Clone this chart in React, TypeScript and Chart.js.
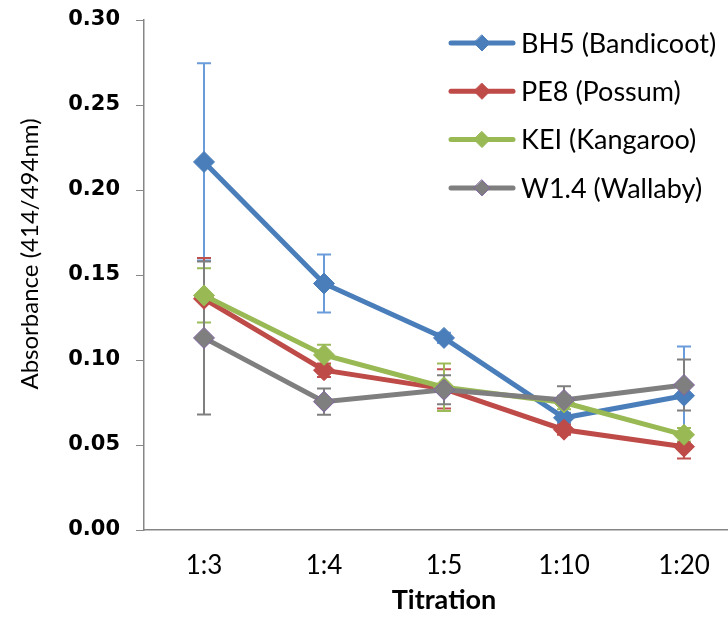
import React, { useEffect, useRef } from "react";
import { Chart, registerables } from "chart.js";

Chart.register(...registerables);

const categories = ["1:3", "1:4", "1:5", "1:10", "1:20"];
const seriesNames = ["BH5 (Bandicoot)", "PE8 (Possum)", "KEI (Kangaroo)", "W1.4 (Wallaby)"];

const bh5 = [0.2165, 0.145, 0.113, 0.066, 0.079];
const bh5Err = [0.058, 0.017, 0.003, 0.003, 0.029];
const pe8 = [0.136, 0.094, 0.083, 0.059, 0.049];
const pe8Err = [0.024, 0.004, 0.0115, 0.003, 0.007];
const kei = [0.138, 0.103, 0.084, 0.075, 0.056];
const keiErr = [0.016, 0.006, 0.014, 0.004, 0.004];
const w14 = [0.113, 0.0755, 0.0825, 0.0765, 0.0853];
const w14Err = [0.045, 0.0077, 0.0085, 0.008, 0.015];

const yMin = 0;
const yMax = 0.3;
const yStep = 0.05;

const yTitle = "Absorbance (414/494nm)";
const xTitle = "Titration";

const lineColors = ["#4A7EBB", "#BE4B48", "#98B954", "#7F7F7F"];
const markerBorders = ["#4A7EBB", "#BE4B48", "#98B954", "#8064A2"];
const errColors = ["#6A9BDA", "#C0504D", "#9BBB59", "#7F7F7F"];

const errorBarPlugin = {
  id: "errorBars",
  beforeDatasetsDraw(chart: any) {
    const ctx = chart.ctx;
    const ys = chart.scales.y;
    chart.data.datasets.forEach((ds: any, i: number) => {
      const meta = chart.getDatasetMeta(i);
      meta.data.forEach((pt: any, j: number) => {
        const v = ds.data[j];
        const e = ds.errors[j];
        const x = pt.x;
        const yt = ys.getPixelForValue(v + e);
        const yb = ys.getPixelForValue(v - e);
        ctx.save();
        ctx.strokeStyle = ds.errorColor;
        ctx.lineWidth = 2;
        ctx.beginPath();
        ctx.moveTo(x, yt);
        ctx.lineTo(x, yb);
        ctx.moveTo(x - 7, yt);
        ctx.lineTo(x + 7, yt);
        ctx.moveTo(x - 7, yb);
        ctx.lineTo(x + 7, yb);
        ctx.stroke();
        ctx.restore();
      });
    });
  },
};

const yTitlePlugin = {
  id: "yTitle",
  afterDraw(chart: any) {
    const ctx = chart.ctx;
    const ys = chart.scales.y;
    const cy = (ys.top + ys.bottom) / 2 - 21;
    ctx.save();
    ctx.translate(30, cy);
    ctx.rotate(-Math.PI / 2);
    ctx.fillStyle = "#000";
    ctx.font = "24px Lato";
    ctx.textAlign = "center";
    ctx.textBaseline = "middle";
    ctx.fillText(yTitle, 0, 0);
    ctx.restore();
  },
};

const legendPlugin = {
  id: "customLegend",
  afterDraw(chart: any) {
    const ctx = chart.ctx;
    chart.data.datasets.forEach((ds: any, i: number) => {
      const y = 43 + i * 48.3;
      ctx.save();
      ctx.strokeStyle = ds.borderColor;
      ctx.lineWidth = 5;
      ctx.lineCap = "round";
      ctx.beginPath();
      ctx.moveTo(451, y);
      ctx.lineTo(513, y);
      ctx.stroke();
      const r = 8;
      ctx.beginPath();
      ctx.moveTo(482, y - r);
      ctx.lineTo(482 + r, y);
      ctx.lineTo(482, y + r);
      ctx.lineTo(482 - r, y);
      ctx.closePath();
      ctx.fillStyle = ds.pointBackgroundColor;
      ctx.fill();
      ctx.strokeStyle = ds.pointBorderColor;
      ctx.lineWidth = 1;
      ctx.stroke();
      ctx.fillStyle = "#000";
      ctx.font = "27px Lato";
      ctx.textBaseline = "middle";
      ctx.textAlign = "left";
      ctx.fillText(ds.label, 521, y + 1);
      ctx.restore();
    });
  },
};

export default function App() {
  const ref = useRef<HTMLCanvasElement>(null);

  useEffect(() => {
    if (!ref.current) return;
    const seriesData = [bh5, pe8, kei, w14];
    const seriesErr = [bh5Err, pe8Err, keiErr, w14Err];
    const datasets = seriesNames.map((name, i) => ({
      label: name,
      data: seriesData[i],
      errors: seriesErr[i],
      errorColor: errColors[i],
      borderColor: lineColors[i],
      backgroundColor: lineColors[i],
      borderWidth: 5,
      tension: 0,
      pointStyle: "rectRot",
      pointRadius: 10.5,
      pointBorderWidth: 1,
      pointBackgroundColor: lineColors[i],
      pointBorderColor: markerBorders[i],
      order: 4 - i,
    }));

    const chart = new Chart(ref.current, {
      type: "line",
      data: { labels: categories, datasets: datasets as any },
      options: {
        responsive: false,
        animation: false,
        layout: { padding: { left: 0, top: 20, right: 16, bottom: 0 } },
        plugins: {
          legend: { display: false },
          tooltip: { enabled: false },
        },
        scales: {
          x: {
            type: "category",
            offset: true,
            afterFit: (s: any) => {
              s.height = 100;
              s.paddingLeft = 0;
              s.paddingRight = 0;
            },
            grid: { drawOnChartArea: false, drawTicks: false },
            border: { display: true, color: "#868686", width: 1.5 },
            ticks: {
              color: "#000",
              font: { family: "Lato", size: 26 },
              padding: 20,
              maxRotation: 0,
            },
            title: {
              display: true,
              text: xTitle,
              color: "#000",
              font: { family: "Lato", size: 27, weight: "bold" },
              padding: { top: 4, bottom: 14 },
            },
          },
          y: {
            min: yMin,
            max: yMax,
            afterFit: (s: any) => {
              s.width = 144;
              s.paddingTop = 0;
              s.paddingBottom = 0;
            },
            ticks: {
              stepSize: yStep,
              color: "#000",
              font: { family: "DejaVu Sans", size: 21, weight: "bold" },
              padding: 16,
              callback: (v: any) => Number(v).toFixed(2),
            },
            grid: {
              drawOnChartArea: false,
              drawTicks: true,
              tickLength: 8,
              color: "#868686",
            },
            border: { display: true, color: "#868686", width: 1.5 },
          },
        },
      },
      plugins: [errorBarPlugin, yTitlePlugin, legendPlugin],
    });
    return () => chart.destroy();
  }, []);

  return (
    <div
      style={{
        position: "absolute",
        left: 0,
        top: 0,
        width: 728,
        height: 630,
        overflow: "hidden",
        background: "#fff",
      }}
    >
      <canvas ref={ref} width={760} height={630} style={{ display: "block", width: 760, height: 630 }} />
    </div>
  );
}
